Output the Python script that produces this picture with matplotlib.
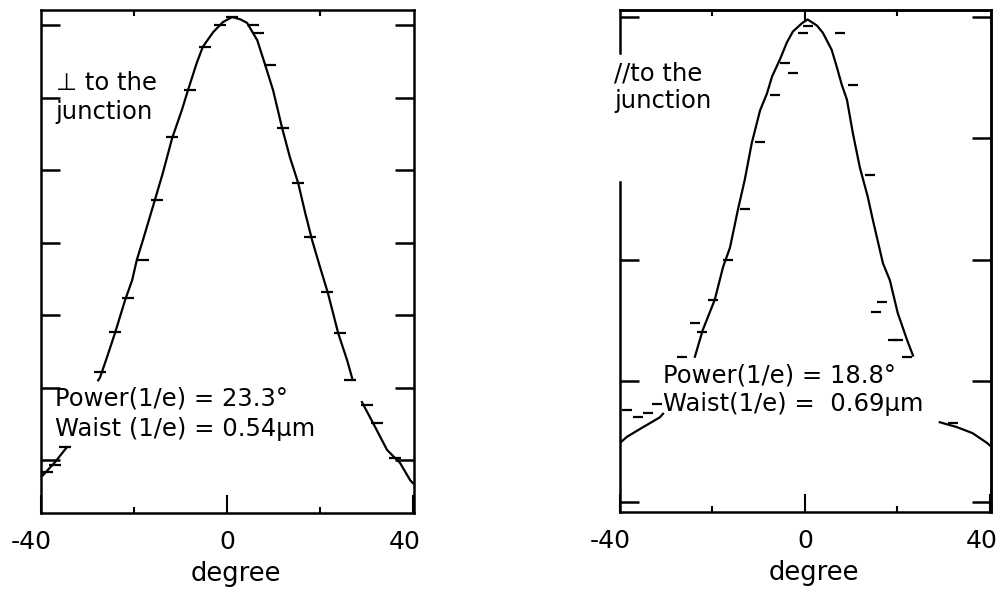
import numpy as np
import matplotlib
matplotlib.use("Agg")
import matplotlib.pyplot as plt
from matplotlib.lines import Line2D

plt.rcParams["font.family"] = ["DejaVu Sans"]
plt.rcParams["axes.unicode_minus"] = False

nan = np.nan

# ---- perpendicular to the junction (left panel) ----
# far-field profile, log intensity in units of one tick interval; NaN breaks the trace
perp_curve_deg = [-40.0, -39.6, -37.0, -34.4, nan,
                  -27.7, -27.3, -25.8, -24.1, -21.9, -20.4, -19.4, -18.1, -15.5,
                  -13.8, -11.8, -9.7, -8.4, -6.5, -5.2, -3.0, -0.9, 1.1, 2.8,
                  4.3, 6.5, 8.2, 9.9, 11.8, 13.5, 15.3, 16.8, 18.3, 20.0, 21.7,
                  23.9, 25.8, 26.9, nan,
                  29.0, 31.4, 34.4, 37.2, 39.4, 40.0]
perp_curve_val = [-6.23, -6.21, -6.03, -5.82, nan,
                  -4.90, -4.86, -4.58, -4.25, -3.79, -3.52, -3.24, -2.97, -2.41,
                  -2.04, -1.56, -1.17, -0.90, -0.52, -0.30, -0.10, 0.04, 0.11, 0.08,
                  0.03, -0.21, -0.55, -0.90, -1.41, -1.82, -2.18, -2.59, -2.97, -3.34, -3.70,
                  -4.25, -4.62, -4.87, nan,
                  -5.20, -5.49, -5.86, -6.04, -6.28, -6.32]
# fitted points
perp_pts_deg = [1.1, -1.5, 5.6, 6.7, -4.7, -8.0, -11.8, 9.2, 12.0, 15.3, -15.1, 17.8,
                -18.1, 21.5, -21.3, -24.1, -27.3, 24.3, 26.5, 30.1, 32.3, 36.1,
                -34.8, -37.0, -38.7]
perp_pts_val = [0.11, 0.00, 0.00, -0.11, -0.30, -0.90, -1.54, -0.55, -1.42, -2.18, -2.41, -2.92,
                -3.24, -3.68, -3.77, -4.23, -4.79, -4.25, -4.90, -5.24, -5.49, -5.97,
                -5.82, -6.07, -6.17]

# ---- parallel to the junction (right panel) ----
par_curve_deg = [-40.0, -38.5, -35.0, -31.4, -30.7, nan,
                 -23.8, -22.1, -19.5, -17.7, -16.2, -14.5, -13.0, -11.5,
                 -9.7, -8.2, -7.1, -5.4, -3.9, -2.6, -0.6, 0.6,
                 2.6, 3.9, 5.8, 6.9, 8.0, 9.1, 10.4, 11.9, 13.6, 14.7, 16.9,
                 18.4, 20.1, 22.1, 23.4, nan,
                 29.2, 32.9, 36.3, 39.4, 40.0]
par_curve_val = [-3.51, -3.46, -3.38, -3.30, -3.27, nan,
                 -2.80, -2.58, -2.33, -2.06, -1.90, -1.59, -1.34, -1.04,
                 -0.77, -0.63, -0.49, -0.35, -0.21, -0.12, -0.05, -0.02,
                 -0.07, -0.13, -0.27, -0.41, -0.56, -0.68, -0.96, -1.24, -1.48, -1.67, -2.03,
                 -2.17, -2.44, -2.66, -2.79, nan,
                 -3.34, -3.38, -3.43, -3.51, -3.53]
par_pts_deg = [0.6, -0.4, 7.6, -4.3, -2.6, -6.5, 10.4, -9.7, 14.1, -13.0, -16.6,
               -19.9, -23.8, -22.3, -26.6, 16.6, 15.4, 19.0, 20.1, 22.1,
               -38.5, -36.1, -33.9, -32.0, 32.0]
par_pts_val = [-0.07, -0.13, -0.13, -0.38, -0.46, -0.64, -0.56, -1.03, -1.30, -1.58, -2.00,
               -2.33, -2.52, -2.60, -2.80, -2.35, -2.43, -2.66, -2.66, -2.80,
               -3.24, -3.30, -3.26, -3.19, -3.35]

x_ticks = [-40, 0, 40]
x_labels = ["-40", "0", "40"]
x_label_shift_px = [-10, 0, -8]
x_minor = [-20, 20]
perp_yticks = [0, -1, -2, -3, -4, -5, -6]
par_yticks = [0, -1, -2, -3, -4]

fig = plt.figure(figsize=(10.02, 5.92), dpi=100)
ax1 = fig.add_axes([0.0409, 0.1334, 0.3723, 0.8497])
ax2 = fig.add_axes([0.6188, 0.1351, 0.3703, 0.848])

LW_SPINE = 1.8
TXT = 17.5


def style(ax, xlim, ylim):
    ax.set_xlim(*xlim)
    ax.set_ylim(*ylim)
    for s in ax.spines.values():
        s.set_linewidth(LW_SPINE)
    ax.set_xticks(x_ticks)
    ax.set_xticks(x_minor, minor=True)
    ax.tick_params(axis="x", which="major", direction="in", length=13, width=1.5,
                   top=False, labelbottom=False)
    ax.tick_params(axis="x", which="minor", direction="in", length=4, width=1.5,
                   top=True, bottom=True)
    # tick labels placed just below their ticks
    for xv, lab, dx in zip(x_ticks, x_labels, x_label_shift_px):
        ax.annotate(lab, xy=(xv, 0), xycoords=("data", "axes fraction"),
                    xytext=(dx, -29), textcoords="offset pixels",
                    ha="center", va="center", fontsize=18, annotation_clip=False)
    ax.annotate("degree", xy=(0.5, 0), xycoords="axes fraction",
                xytext=(8, -61), textcoords="offset pixels",
                ha="center", va="center", fontsize=18.5)
    ax.tick_params(axis="y", which="both", direction="in", length=14, width=1.8,
                   labelleft=False, labelright=False)


# left panel
style(ax1, (-40, 40.2), (-6.73, 0.207))
ax1.set_yticks(perp_yticks)
ax1.tick_params(axis="y", left=True, right=True)
ax1.plot(perp_curve_deg, perp_curve_val, color="black", lw=1.6)
ax1.plot(perp_pts_deg, perp_pts_val, ls="none", marker="_", ms=9, mew=1.6, color="black")
ax1.text(-36.8, -1.0, "\u22a5 to the\njunction", fontsize=TXT, ha="left", va="center",
         linespacing=1.3)
ax1.text(-37.0, -5.36, "Power(1/e) = 23.3\u00b0\nWaist (1/e) = 0.54\u00b5m", fontsize=TXT,
         ha="left", va="center", linespacing=1.3)

# right panel
style(ax2, (-40, 40.3), (-4.08, 0.058))
ax2.set_yticks([0, -2, -3, -4])
ax2.tick_params(axis="y", left=True, right=False)
sec = ax2.secondary_yaxis("right")
sec.set_yticks(par_yticks)
sec.tick_params(axis="y", direction="in", length=14, width=1.8, labelright=False)
sec.spines["right"].set_linewidth(LW_SPINE)
top = ax2.secondary_xaxis("top")
top.set_xticks([0])
top.tick_params(axis="x", direction="in", length=8, width=1.5, labeltop=False)
top.spines["top"].set_linewidth(LW_SPINE)

# left spine with a break behind the label
ax2.spines["left"].set_visible(False)
for y0, y1 in [(0.0, 0.657), (0.914, 1.0)]:
    ax2.add_line(Line2D([0, 0], [y0, y1], transform=ax2.transAxes, color="black",
                        lw=LW_SPINE, clip_on=False, solid_capstyle="projecting"))

ax2.plot(par_curve_deg, par_curve_val, color="black", lw=1.6)
ax2.plot(par_pts_deg, par_pts_val, ls="none", marker="_", ms=7, mew=1.6, color="black")
ax2.text(-41.3, -0.58, "//to the\njunction", fontsize=TXT, ha="left", va="center",
         linespacing=1.2)
ax2.text(-30.8, -3.07, "Power(1/e) = 18.8\u00b0\nWaist(1/e) =  0.69\u00b5m", fontsize=TXT,
         ha="left", va="center", linespacing=1.25)

fig.savefig("out.png", dpi=100, facecolor="white")
